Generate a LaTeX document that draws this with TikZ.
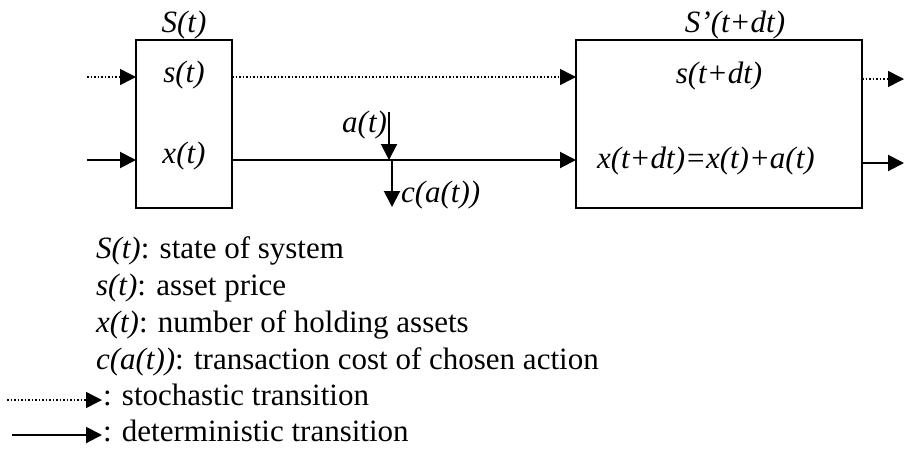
\documentclass[tikz,border=0pt]{standalone}
\usepackage{fontspec}
\setmainfont{Liberation Serif}
\usetikzlibrary{arrows.meta}
\begin{document}
\begin{tikzpicture}[x=1pt,y=-1pt,
  every node/.style={inner sep=0pt,outer sep=0pt,font=\fontsize{31}{37}\selectfont},
  statebox/.style={draw,line width=2pt,rectangle},
  lbl/.style={anchor=base,font=\fontsize{31}{37}\selectfont\itshape},
  legend/.style={anchor=base west},
  tip/.style={-{Triangle[length=16pt,width=16pt]}},
  det/.style={tip,line width=2pt},
  stoch/.style={tip,line width=1.5pt,dash pattern=on 1.5pt off 2pt}]
\useasboundingbox (0,0) rectangle (904,448);

% state boxes
\node[statebox,minimum width=96pt,minimum height=168pt] (box1) at (184,124) {};
\node[statebox,minimum width=286pt,minimum height=168pt] (box2) at (719,124) {};

% labels of the states
\node[lbl] (S1) at (184,32) {S(t)};
\node[lbl] (S2) at (735,32) {S’(t+dt)};
\node[lbl] (s1) at (184,82) {s(t)};
\node[lbl] (x1) at (184,163) {x(t)};
\node[lbl] (s2) at (719,83) {s(t+dt)};
\node[lbl,anchor=base west] (x2) at (597,168) {x(t+dt)=x(t)+a(t)};

% free ends of the connectors
\coordinate (sin) at (87,77);
\coordinate (xin) at (87,160);
\coordinate (sout) at (904,79);
\coordinate (xout) at (904,163);
\coordinate (atop) at (389,112);
\coordinate (ajoin) at (389,160);
\coordinate (cjoin) at (392,160);
\coordinate (cbot) at (392,207);

% transitions
\draw[stoch] (sin) -- (sin -| box1.west);
\draw[det] (xin) -- (xin -| box1.west);
\draw[stoch] (box1.east |- sin) -- (box2.west |- sin);
\draw[det] (box1.east |- xin) -- (box2.west |- xin);
\draw[stoch] (box2.east |- sout) -- (sout);
\draw[det] (box2.east |- xout) -- (xout);

% action and its cost
\draw[det] (atop) -- (ajoin);
\draw[det] (cjoin) -- (cbot);
\node[lbl,anchor=base east] (alab) at (387,132) {a(t)};
\node[lbl,anchor=base west] (clab) at (401,202) {c(a(t))};

% legend
\node[legend] (l1) at (96,258) {\textit{S(t)\/}: state of system};
\node[legend] (l2) at (96,295) {\textit{s(t)\/}: asset price};
\node[legend] (l3) at (96,332) {\textit{x(t)\/}: number of holding assets};
\node[legend] (l4) at (96,369) {\textit{c(a(t))\/}: transaction cost of chosen action};
\coordinate (ls0) at (7,400);
\coordinate (ls1) at (102,400);
\coordinate (ld0) at (12,435);
\coordinate (ld1) at (102,435);
\draw[stoch] (ls0) -- (ls1);
\draw[det] (ld0) -- (ld1);
\node[legend] (l5) at (103,405) {: stochastic transition};
\node[legend] (l6) at (103,441) {: deterministic transition};
\end{tikzpicture}
\end{document}
